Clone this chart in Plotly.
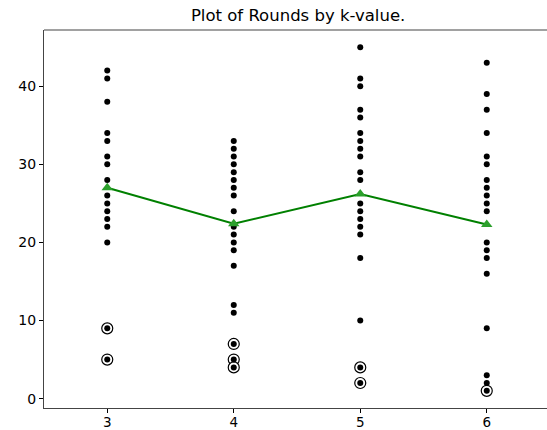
import plotly.graph_objects as go

k_values = [3, 4, 5, 6]
rounds_k3 = [42, 41, 38, 34, 33, 31, 30, 28, 26, 25, 24, 23, 22, 20, 9, 5]
rounds_k4 = [33, 32, 31, 30, 29, 28, 27, 26, 24, 22, 21, 20, 19, 17, 12, 11, 7, 5, 4]
rounds_k5 = [45, 41, 40, 37, 36, 34, 33, 32, 31, 29, 28, 25, 24, 23, 22, 21, 18, 10, 4, 2]
rounds_k6 = [43, 39, 37, 34, 31, 30, 28, 27, 26, 25, 24, 20, 19, 18, 16, 9, 3, 2, 1]
outliers_k3 = [9, 5]
outliers_k4 = [7, 5, 4]
outliers_k5 = [4, 2]
outliers_k6 = [1]
mean_rounds = [27.0, 22.4, 26.2, 22.3]
y_ticks = [0, 10, 20, 30, 40]

all_rounds = [rounds_k3, rounds_k4, rounds_k5, rounds_k6]
all_outliers = [outliers_k3, outliers_k4, outliers_k5, outliers_k6]

fig = go.Figure()

ox, oy = [], []
for k, outs in zip(k_values, all_outliers):
    ox += [k] * len(outs)
    oy += outs
fig.add_trace(go.Scatter(x=ox, y=oy, mode="markers",
                         marker=dict(symbol="circle", size=11, color="white",
                                     line=dict(color="black", width=1.2)),
                         showlegend=False, hoverinfo="skip"))

px, py = [], []
for k, vals in zip(k_values, all_rounds):
    px += [k] * len(vals)
    py += vals
fig.add_trace(go.Scatter(x=px, y=py, mode="markers",
                         marker=dict(symbol="circle", size=6, color="black", line=dict(width=0)),
                         showlegend=False))

fig.add_trace(go.Scatter(x=k_values, y=mean_rounds, mode="lines+markers",
                         line=dict(color="#008000", width=2),
                         marker=dict(symbol="triangle-up", size=10, color="#2ca02c", line=dict(width=0)),
                         showlegend=False))

fig.update_layout(
    width=547, height=430,
    margin=dict(l=44, r=0, t=30, b=22),
    paper_bgcolor="white", plot_bgcolor="white",
    font=dict(family="DejaVu Sans", size=14, color="black"),
    title=dict(text="Plot of Rounds by k-value.", x=0.545, xanchor="center",
               y=1 - 15 / 430, yanchor="middle", font=dict(size=16.5)),
)
fig.update_xaxes(range=[2.5, 2.5 + 503 / 126.5], tickvals=k_values, ticktext=[str(k) for k in k_values],
                 showline=True, linecolor="#444", linewidth=1.2, mirror=False, automargin=False,
                 ticks="outside", ticklen=4, tickcolor="black", showgrid=False, zeroline=False,
                 ticklabelstandoff=-2, tickfont=dict(size=13.5))
fig.update_yaxes(range=[-1.2, 47.2], tickvals=y_ticks,
                 showline=True, linecolor="#444", linewidth=1.2, mirror=False, automargin=False,
                 ticks="outside", ticklen=4, tickcolor="black", showgrid=False, zeroline=False)
fig.add_shape(type="line", xref="paper", yref="paper", x0=0, x1=1, y0=1, y1=1,
              line=dict(color="#444", width=1.2))

fig.write_html("out.html")
